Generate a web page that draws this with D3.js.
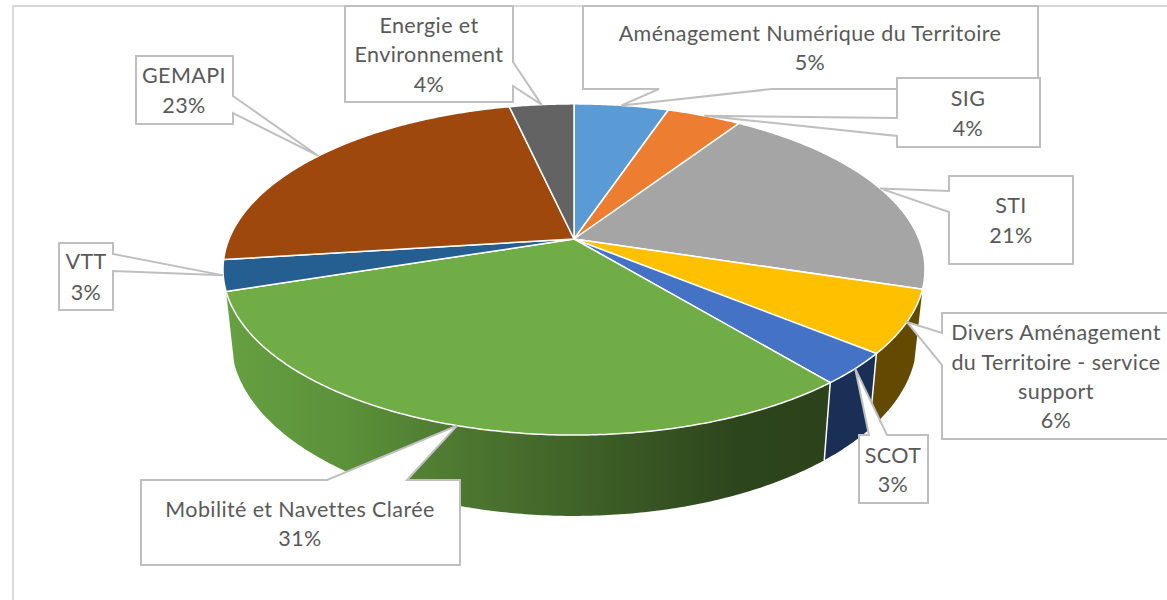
<!DOCTYPE html>
<html lang="fr">

<head>
	<meta charset="utf-8">
	<title> Répartition </title>
	<script src="https://d3js.org/d3.v7.min.js"></script>
	<style type="text/css">
		html, body { margin: 0; padding: 0; background: #fff; overflow: hidden; }
		svg { display: block; }
		.callout { fill: #fff; stroke: #bfbfbf; stroke-width: 2; stroke-linejoin: miter; }
		.lbl { font: 21.5px Lato, sans-serif; fill: #595959; text-anchor: middle; letter-spacing: .4px; }
	</style>
</head>

<body>
	<script type="text/javascript">

	// data
	var categories = ["Aménagement Numérique du Territoire", "SIG", "STI", "Divers Aménagement du Territoire - service support", "SCOT", "Mobilité et Navettes Clarée", "VTT", "GEMAPI", "Energie et Environnement"]
	var values = [5.2, 4.1, 20.5, 6.1, 3.1, 31, 3, 23.45, 3.55]
	var colors = ["#5b9bd5", "#ed7d31", "#a5a5a5", "#ffc000", "#4472c4", "#70ad47", "#255e91", "#9e480e", "#636363"]
	var wallColors = [null, null, null, "#634a00", "#1a2f55", "url(#wallGreen)", null, null, null]

	// init window size
	var w = 1167
	var h = 600

	// callout boxes, same order as categories: box, side the wedge leaves from, wedge base, text lines
	var callouts = [
		{x0: 583, x1: 1038, y0: 6, y1: 89, side: "bottom", a: 659, b: 772, cx: 810, lines: [["Aménagement Numérique du Territoire", 41]], py: 70},
		{x0: 897, x1: 1040, y0: 78, y1: 147, side: "left", a: 118, b: 136, cx: 968, lines: [["SIG", 106]], py: 136},
		{x0: 949, x1: 1073, y0: 176, y1: 264, side: "left", a: 191, b: 212, cx: 1011, lines: [["STI", 213]], py: 243},
		{x0: 942, x1: 1180, y0: 313, y1: 439, side: "left", a: 333, b: 365, cx: 1056, lines: [["Divers Aménagement", 340], ["du Territoire - service", 370], ["support", 399]], py: 428},
		{x0: 859, x1: 928, y0: 435, y1: 503, side: "top", a: 869, b: 887, cx: 893, lines: [["SCOT", 463]], py: 492},
		{x0: 141, x1: 460, y0: 480, y1: 565, side: "top", a: 327, b: 407, cx: 300, lines: [["Mobilité et Navettes Clarée", 517]], py: 546},
		{x0: 59, x1: 113, y0: 243, y1: 310, side: "right", a: 254, b: 271, cx: 86, lines: [["VTT", 269]], py: 300},
		{x0: 136, x1: 233, y0: 56, y1: 124, side: "right", a: 96, b: 113, cx: 184, lines: [["GEMAPI", 83]], py: 113},
		{x0: 345, x1: 513, y0: 6, y1: 102, side: "right", a: 62, b: 86, cx: 429, lines: [["Energie et", 33], ["Environnement", 62]], py: 92}
	]

	// init svg
	var svg = d3.select("body")
				.append("svg")
				.attr("width", w)
				.attr("height", h)

	// side wall gradient
	var grad = svg.append("defs").append("linearGradient")
		.attr("id", "wallGreen")
		.attr("gradientUnits", "userSpaceOnUse")
		.attr("x1", 227).attr("y1", 0).attr("x2", 830).attr("y2", 0)
	var stops = [[0, "#66a042"], [0.2, "#5b9139"], [0.4, "#4c7630"], [0.6, "#3e6027"], [0.85, "#2d451c"], [1, "#2b421b"]]
	stops.forEach(function(s){
		grad.append("stop").attr("offset", s[0]).attr("stop-color", s[1])
	})

	// chart frame, runs off the picture on the right and bottom
	svg.append("rect")
		.attr("x", 13).attr("y", 6)
		.attr("width", w + 20).attr("height", h + 20)
		.attr("fill", "none")
		.attr("stroke", "#d9d9d9")
		.attr("stroke-width", 2)

	// perspective projection of the pie disc, top face and bottom face
	function projector(cy, A, B, k){
		return function(angle, r){
			var u = Math.sin(angle) * r
			var v = -Math.cos(angle) * r
			var d = 1 + k * v
			return [574 + A * u / d, cy + B * v / d]
		}
	}
	var topFace = projector(239, 345, 160, -0.184)
	var botFace = projector(307.6, 337, 170, -0.184)

	var pie = d3.pie().sort(null)
	var arcs = pie(values)
	var line = d3.line()

	function arcAngles(d){
		var n = Math.max(2, Math.ceil((d.endAngle - d.startAngle) / 0.01))
		return d3.range(n + 1).map(function(i){ return d.startAngle + (d.endAngle - d.startAngle) * i / n })
	}

	// side walls
	var walls = arcs.filter(function(d){ return wallColors[d.index] })
	svg.append("g").selectAll("path")
		.data(walls)
		.enter()
		.append("path")
		.attr("fill", function(d){ return wallColors[d.index] })
		.attr("d", function(d){
			var a = arcAngles(d)
			var pts = a.map(function(t){ return topFace(t, 1) })
				.concat(a.slice().reverse().map(function(t){ return botFace(t, 1) }))
			return line(pts) + "Z"
		})

	// white dividers between the walls
	svg.append("g").selectAll("line")
		.data(arcs.filter(function(d){ return d.index == 4 || d.index == 5 }))
		.enter()
		.append("line")
		.attr("x1", function(d){ return topFace(d.startAngle, 1)[0] })
		.attr("y1", function(d){ return topFace(d.startAngle, 1)[1] })
		.attr("x2", function(d){ return botFace(d.startAngle, 1)[0] })
		.attr("y2", function(d){ return botFace(d.startAngle, 1)[1] })
		.attr("stroke", "#fff")
		.attr("stroke-width", 1.5)

	// top face
	svg.append("g").selectAll("path")
		.data(arcs)
		.enter()
		.append("path")
		.attr("fill", function(d){ return colors[d.index] })
		.attr("stroke", "#fff")
		.attr("stroke-width", 1.5)
		.attr("stroke-linejoin", "round")
		.attr("d", function(d){
			var pts = [topFace(0, 0)].concat(arcAngles(d).map(function(t){ return topFace(t, 1) }))
			return line(pts) + "Z"
		})

	// callouts, the wedge tip sits on the middle of the slice's outer edge
	function calloutPoints(c, tip){
		if (c.side == "left")
			return [[c.x0, c.y0], [c.x1, c.y0], [c.x1, c.y1], [c.x0, c.y1], [c.x0, c.b], tip, [c.x0, c.a]]
		if (c.side == "right")
			return [[c.x0, c.y0], [c.x1, c.y0], [c.x1, c.a], tip, [c.x1, c.b], [c.x1, c.y1], [c.x0, c.y1]]
		if (c.side == "top")
			return [[c.x0, c.y0], [c.a, c.y0], tip, [c.b, c.y0], [c.x1, c.y0], [c.x1, c.y1], [c.x0, c.y1]]
		return [[c.x0, c.y0], [c.x1, c.y0], [c.x1, c.y1], [c.b, c.y1], tip, [c.a, c.y1], [c.x0, c.y1]]
	}

	var total = d3.sum(values)
	var labels = svg.append("g").selectAll("g")
		.data(arcs)
		.enter()
		.append("g")

	labels.append("path")
		.attr("class", "callout")
		.attr("d", function(d){
			var tip = topFace((d.startAngle + d.endAngle) / 2, 1)
			return line(calloutPoints(callouts[d.index], tip)) + "Z"
		})

	labels.each(function(d){
		var c = callouts[d.index]
		var g = d3.select(this)
		c.lines.forEach(function(l){
			g.append("text").attr("class", "lbl").attr("x", c.cx).attr("y", l[1]).text(l[0])
		})
		g.append("text").attr("class", "lbl").attr("x", c.cx).attr("y", c.py)
			.text(Math.round(values[d.index] / total * 100) + "%")
	})

	</script>
</body>
</html>
